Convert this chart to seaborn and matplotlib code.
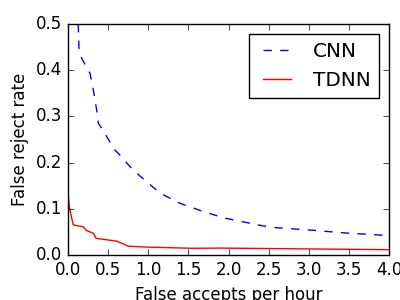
import matplotlib
matplotlib.use("Agg")
import matplotlib.pyplot as plt
import seaborn as sns
import pandas as pd

# false accepts per hour vs false reject rate
cnn_fa = [0.128, 0.137, 0.17, 0.274, 0.316, 0.357, 0.378, 0.42, 0.586, 0.648, 0.81,
          1.146, 1.395, 1.686, 1.894, 1.977, 2.43, 2.6, 3.02, 3.43, 4.0]
cnn_fr = [0.5, 0.444, 0.426, 0.393, 0.357, 0.314, 0.285, 0.274, 0.227, 0.216, 0.184,
          0.134, 0.112, 0.094, 0.083, 0.079, 0.063, 0.059, 0.054, 0.048, 0.042]

tdnn_fa = [0.005, 0.017, 0.037, 0.066, 0.19, 0.23, 0.316, 0.35, 0.607, 0.752, 1.0,
           1.56, 1.9, 4.0]
tdnn_fr = [0.125, 0.105, 0.087, 0.065, 0.061, 0.053, 0.047, 0.036, 0.030, 0.019, 0.017,
           0.0145, 0.015, 0.0115]

plt.style.use("classic")
plt.rcParams["figure.facecolor"] = "white"
plt.rcParams["savefig.facecolor"] = "white"

cnn = pd.DataFrame({"fa": cnn_fa, "fr": cnn_fr})
tdnn = pd.DataFrame({"fa": tdnn_fa, "fr": tdnn_fr})

fig = plt.figure(figsize=(4, 3), dpi=100)
ax = fig.add_axes([0.17, 0.15, 0.8025, 0.77])
sns.lineplot(data=cnn, x="fa", y="fr", sort=False, estimator=None, color="blue",
             linestyle="--", label="CNN", ax=ax)
sns.lineplot(data=tdnn, x="fa", y="fr", sort=False, estimator=None, color="red",
             label="TDNN", ax=ax)
ax.set_xlim(0, 4.0)
ax.set_ylim(0, 0.5)
ax.set_xticks([0, 0.5, 1, 1.5, 2, 2.5, 3, 3.5, 4])
ax.set_yticks([0, 0.1, 0.2, 0.3, 0.4, 0.5])
ax.set_xlabel("False accepts per hour")
ax.set_ylabel("False reject rate")
ax.legend(loc="upper right")

fig.savefig("out.png", dpi=100)
